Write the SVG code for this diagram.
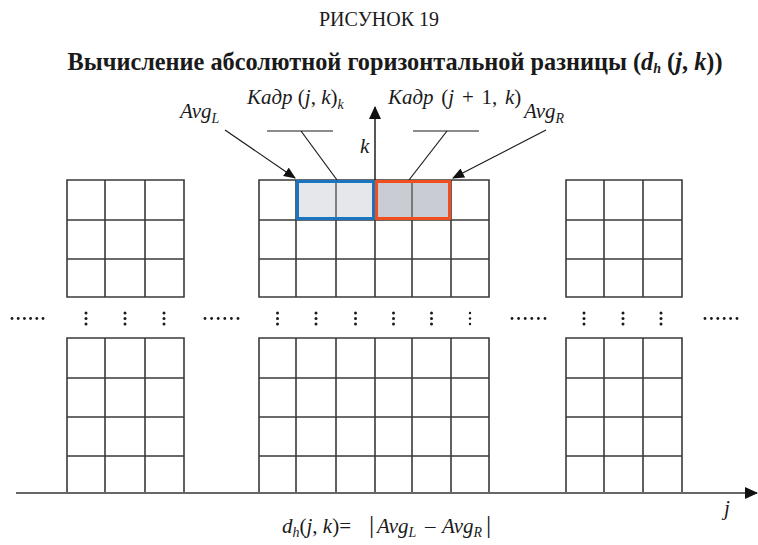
<svg xmlns="http://www.w3.org/2000/svg" width="758" height="545" viewBox="0 0 758 545">
<defs>
<style>
.t{font-family:"Liberation Serif","Times New Roman",serif;fill:#1a1a1a}
.i{font-style:italic}
.n{font-style:normal}
.g{fill:none;stroke:#3a3a3a;stroke-width:1.6}
.ln{fill:none;stroke:#1a1a1a;stroke-width:1.2}
.ax{fill:none;stroke:#666;stroke-width:2}
.d{fill:#1a1a1a}
</style>
<marker id="ah" viewBox="0 0 12 10" refX="11" refY="5" markerWidth="12" markerHeight="10" markerUnits="userSpaceOnUse" orient="auto">
<path d="M0,0 L12,5 L0,10 Z" fill="#111"/>
</marker>
<marker id="ahb" viewBox="0 0 13 12" refX="12" refY="6" markerWidth="13" markerHeight="12" markerUnits="userSpaceOnUse" orient="auto">
<path d="M0,0 L13,6 L0,12 Z" fill="#111"/>
</marker>
</defs>
<rect width="758" height="545" fill="#fff"/>
<g id="titles">
<text class="t" x="379" y="26" font-size="20" text-anchor="middle">РИСУНОК 19</text>
<text class="t" x="395" y="70" font-size="24.3" font-weight="bold" text-anchor="middle">Вычисление абсолютной горизонтальной разницы (<tspan class="i">d</tspan><tspan class="i" font-size="14" dy="3">h</tspan><tspan dy="-3"> (</tspan><tspan class="i">j</tspan>, <tspan class="i">k</tspan>))</text>
</g>
<g id="grid-left-top"><path class="g" d="M67,180H184V297H67Z M67,220H184 M67,259H184 M105,180V297 M145,180V297"/></g>
<g id="grid-left-bottom"><path class="g" d="M67,338H184V493H67Z M67,378H184 M67,417H184 M67,456H184 M105,338V493 M145,338V493"/></g>
<g id="grid-mid-top"><path class="g" d="M259,180H489V297H259Z M259,220H489 M259,259H489 M296,180V297 M336,180V297 M375,180V297 M412,180V297 M451,180V297"/></g>
<g id="grid-mid-bottom"><path class="g" d="M259,338H489V493H259Z M259,378H489 M259,417H489 M259,456H489 M296,338V493 M336,338V493 M375,338V493 M412,338V493 M451,338V493"/></g>
<g id="grid-right-top"><path class="g" d="M566,180H682V297H566Z M566,220H682 M566,259H682 M604,180V297 M643,180V297"/></g>
<g id="grid-right-bottom"><path class="g" d="M566,338H682V493H566Z M566,378H682 M566,417H682 M566,456H682 M604,338V493 M643,338V493"/></g>
<g id="frame-left">
<rect x="297.5" y="181.5" width="76" height="37" fill="#e6e7eb" stroke="#1a74bf" stroke-width="3"/>
<line x1="336" y1="183" x2="336" y2="217" stroke="#555" stroke-width="1.4"/>
</g>
<g id="frame-right">
<rect x="376.5" y="181.5" width="73" height="37" fill="#c9ccd2" stroke="#f04e1e" stroke-width="3"/>
<line x1="412" y1="183" x2="412" y2="217" stroke="#555" stroke-width="1.4"/>
</g>
<g id="dots">
<g class="d">
<circle cx="12" cy="318.5" r="1.4"/><circle cx="18.2" cy="318.5" r="1.4"/><circle cx="24.4" cy="318.5" r="1.4"/><circle cx="30.6" cy="318.5" r="1.4"/><circle cx="36.8" cy="318.5" r="1.4"/><circle cx="43" cy="318.5" r="1.4"/>
<circle cx="205" cy="318.5" r="1.4"/><circle cx="211.6" cy="318.5" r="1.4"/><circle cx="218.2" cy="318.5" r="1.4"/><circle cx="224.8" cy="318.5" r="1.4"/><circle cx="231.4" cy="318.5" r="1.4"/><circle cx="238" cy="318.5" r="1.4"/>
<circle cx="512" cy="318.5" r="1.4"/><circle cx="518.6" cy="318.5" r="1.4"/><circle cx="525.2" cy="318.5" r="1.4"/><circle cx="531.8" cy="318.5" r="1.4"/><circle cx="538.4" cy="318.5" r="1.4"/><circle cx="545" cy="318.5" r="1.4"/>
<circle cx="705" cy="318.5" r="1.4"/><circle cx="711.4" cy="318.5" r="1.4"/><circle cx="717.8" cy="318.5" r="1.4"/><circle cx="724.2" cy="318.5" r="1.4"/><circle cx="730.6" cy="318.5" r="1.4"/><circle cx="737" cy="318.5" r="1.4"/>
</g>
<g class="d" id="vdots">
<circle cx="86" cy="313" r="1.5"/><circle cx="86" cy="318.5" r="1.5"/><circle cx="86" cy="324" r="1.5"/>
<circle cx="125" cy="313" r="1.5"/><circle cx="125" cy="318.5" r="1.5"/><circle cx="125" cy="324" r="1.5"/>
<circle cx="164" cy="313" r="1.5"/><circle cx="164" cy="318.5" r="1.5"/><circle cx="164" cy="324" r="1.5"/>
<circle cx="277.5" cy="313" r="1.5"/><circle cx="277.5" cy="318.5" r="1.5"/><circle cx="277.5" cy="324" r="1.5"/>
<circle cx="316" cy="313" r="1.5"/><circle cx="316" cy="318.5" r="1.5"/><circle cx="316" cy="324" r="1.5"/>
<circle cx="355.5" cy="313" r="1.5"/><circle cx="355.5" cy="318.5" r="1.5"/><circle cx="355.5" cy="324" r="1.5"/>
<circle cx="393.5" cy="313" r="1.5"/><circle cx="393.5" cy="318.5" r="1.5"/><circle cx="393.5" cy="324" r="1.5"/>
<circle cx="431.5" cy="313" r="1.5"/><circle cx="431.5" cy="318.5" r="1.5"/><circle cx="431.5" cy="324" r="1.5"/>
<circle cx="470" cy="313" r="1.2"/><circle cx="470" cy="318.5" r="1.2"/><circle cx="470" cy="324" r="1.2"/>
<circle cx="584" cy="313" r="1.5"/><circle cx="584" cy="318.5" r="1.5"/><circle cx="584" cy="324" r="1.5"/>
<circle cx="623" cy="313" r="1.5"/><circle cx="623" cy="318.5" r="1.5"/><circle cx="623" cy="324" r="1.5"/>
<circle cx="661" cy="313" r="1.5"/><circle cx="661" cy="318.5" r="1.5"/><circle cx="661" cy="324" r="1.5"/>
</g>
</g>
<g id="connectors">
<line class="ax" x1="16" y1="493" x2="757" y2="493" marker-end="url(#ahb)"/>
<line x1="375" y1="180" x2="375" y2="107" stroke="#111" stroke-width="1.4" marker-end="url(#ahb)"/>
<line class="ln" x1="225" y1="130" x2="295" y2="178" marker-end="url(#ah)"/>
<line class="ln" x1="546" y1="130" x2="453" y2="178" marker-end="url(#ah)"/>
<line class="ln" x1="267" y1="131" x2="333" y2="131"/>
<line class="ln" x1="301" y1="131" x2="337" y2="180"/>
<line class="ln" x1="413" y1="131" x2="479" y2="131"/>
<line class="ln" x1="447" y1="131" x2="409" y2="180"/>
</g>
<g id="labels">
<text class="t i" x="180" y="118" font-size="21">Avg<tspan font-size="14" dy="5">L</tspan></text>
<text class="t i" x="524" y="118" font-size="21">Avg<tspan font-size="14" dy="5">R</tspan></text>
<text class="t i" x="247" y="104" font-size="21">Кадр <tspan class="n">(</tspan>j<tspan class="n">, </tspan>k<tspan class="n">)</tspan><tspan font-size="14" dy="5">k</tspan></text>
<text class="t i" x="388" y="104" font-size="21" word-spacing="2.5">Кадр <tspan class="n">(</tspan>j <tspan class="n">+ 1, </tspan>k<tspan class="n">)</tspan></text>
<text class="t i" x="360" y="153" font-size="21">k</text>
<text class="t i" x="724" y="515" font-size="21">j</text>
<text class="t i" x="282" y="533" font-size="21">d<tspan font-size="14" dy="4">h</tspan><tspan class="n" dy="-4">(</tspan>j<tspan class="n">, </tspan>k<tspan class="n">)=</tspan><tspan class="n" x="369" font-size="26">|</tspan><tspan x="377">Avg</tspan><tspan font-size="14" dy="4">L</tspan><tspan class="n" dy="-4" x="425">–</tspan><tspan x="442">Avg</tspan><tspan font-size="14" dy="4">R</tspan><tspan class="n" dy="-4" x="486" font-size="26">|</tspan></text>
</g>
</svg>
